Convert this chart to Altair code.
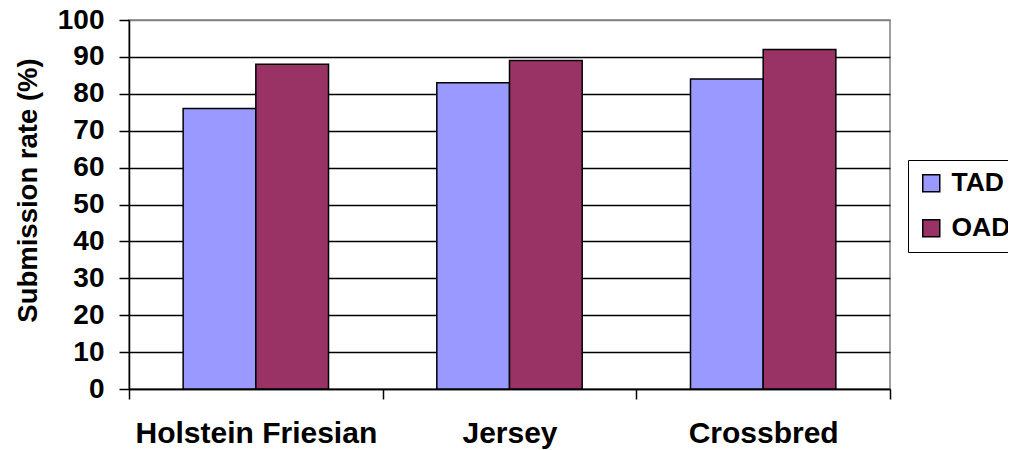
import altair as alt
import pandas as pd

breeds = ["Holstein Friesian", "Jersey", "Crossbred"]
tad = [76, 83, 84]
oad = [88, 89, 92]
series = ["TAD", "OAD"]
colors = ["#9999FF", "#993366"]
y_ticks = [0, 10, 20, 30, 40, 50, 60, 70, 80, 90, 100]

rows = []
for i, b in enumerate(breeds):
    rows.append({"breed": b, "group": "TAD", "rate": tad[i]})
    rows.append({"breed": b, "group": "OAD", "rate": oad[i]})
df = pd.DataFrame(rows)

FONT = "Liberation Sans"

chart = alt.Chart(df).mark_bar(stroke="black", strokeWidth=1.5).encode(
    x=alt.X(
        "breed:N", sort=breeds, title=None,
        scale=alt.Scale(paddingInner=0, paddingOuter=0),
        axis=alt.Axis(
            labelAngle=0, tickBand="extent", tickSize=10, tickColor="black",
            tickWidth=1.5, domainColor="black", domainWidth=1.5,
            labelFont=FONT, labelFontSize=30, labelFontWeight="bold",
            labelColor="black", labelBaseline="alphabetic", labelPadding=43,
            labelLimit=0, grid=False,
        ),
    ),
    xOffset=alt.XOffset(
        "group:N", sort=series,
        scale=alt.Scale(paddingInner=0, paddingOuter=0.745),
    ),
    y=alt.Y(
        "rate:Q",
        scale=alt.Scale(domain=[0, 100], nice=False),
        axis=alt.Axis(
            values=y_ticks, title="Submission rate (%)",
            tickSize=10, tickColor="black", tickWidth=1.5,
            domainColor="black", domainWidth=1.5,
            grid=True, gridWidth=1.5,
            gridColor=alt.condition("datum.value == 100", alt.value("#808080"), alt.value("black")),
            labelFont=FONT, labelFontSize=28, labelFontWeight="bold",
            labelColor="black", labelPadding=15,
            titleFont=FONT, titleFontSize=27.5, titleFontWeight="bold",
            titleColor="black", titleAngle=270, titleAlign="center",
            titleBaseline="alphabetic", titleX=-93, titleY=170,
        ),
    ),
    color=alt.Color(
        "group:N", sort=series,
        scale=alt.Scale(domain=series, range=colors),
        legend=alt.Legend(
            title=None, orient="none", legendX=779, legendY=140,
            strokeColor="black", fillColor="white", padding=10,
            symbolType="square", symbolSize=289, symbolStrokeColor="black",
            symbolStrokeWidth=1.5, symbolOpacity=1,
            labelFont=FONT, labelFontSize=26.5, labelFontWeight="bold",
            labelColor="black", rowPadding=18, labelOffset=7, labelLimit=0,
        ),
    ),
).properties(
    width=761, height=369,
    autosize=alt.AutoSizeParams(type="none"),
    padding={"left": 121, "top": 12, "right": 118, "bottom": 60},
).configure_view(
    stroke="#808080", strokeWidth=1.5
)

chart.save("out.html", embed_options={"renderer": "svg", "actions": False})
